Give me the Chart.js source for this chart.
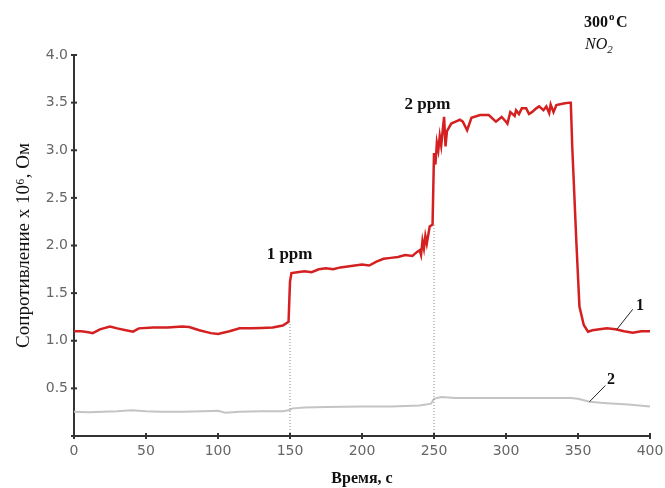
<!DOCTYPE html>
<html>
<head>
<meta charset="utf-8">
<script src="https://cdn.jsdelivr.net/npm/chart.js@4"></script>
<style>
  body { margin: 0; background: #fff; }
  #wrap { width: 665px; height: 488px; }
</style>
</head>
<body>
<div id="wrap"><canvas id="chart" width="665" height="488"></canvas></div>
<script>
// curve 1 (red)
const redTime = [0, 5, 10, 13, 18, 25, 30, 36, 41, 45, 55, 65, 75, 80, 87, 95, 100, 108, 115, 123, 130, 138, 145, 149,
  150, 151, 155, 160, 165, 170, 175, 180, 185, 190, 195, 200, 205, 210, 215, 220, 225, 230, 235, 238, 240, 241, 242,
  243, 244, 245, 247, 249, 250, 251, 252, 253, 254, 255, 256, 257, 258, 259, 262, 265, 268, 270, 273, 276, 282, 288,
  293, 297, 300, 301, 303, 306, 307, 309, 311, 314, 316, 318, 321, 323, 326, 328, 330, 331, 333, 335, 340, 344, 345,
  346, 349, 351, 354, 357, 360, 365, 370, 376, 382, 388, 394, 400];
const redValues = [1.10, 1.10, 1.09, 1.08, 1.12, 1.15, 1.13, 1.11, 1.095, 1.13, 1.14, 1.14, 1.15, 1.145, 1.11, 1.08, 1.07,
  1.10, 1.13, 1.13, 1.135, 1.14, 1.16, 1.20,
  1.62, 1.71, 1.72, 1.73, 1.72, 1.75, 1.76, 1.75, 1.77, 1.78, 1.79, 1.80, 1.79, 1.83, 1.86, 1.87, 1.88, 1.90, 1.89, 1.93,
  1.95, 1.90, 2.05, 1.97, 2.10, 2.02, 2.20, 2.22, 2.97, 2.85, 3.08, 3.00, 3.15, 3.05, 3.20, 3.35, 3.04, 3.20, 3.28, 3.30,
  3.32, 3.30, 3.21, 3.34, 3.37, 3.37, 3.30, 3.35, 3.30, 3.28, 3.40, 3.36, 3.42, 3.38, 3.44, 3.44, 3.38, 3.40, 3.44, 3.46,
  3.42, 3.46, 3.39, 3.48, 3.40, 3.475, 3.49, 3.50, 3.50,
  3.04, 1.99, 1.36, 1.165, 1.095, 1.11, 1.12, 1.13, 1.12, 1.10, 1.085, 1.10, 1.10];

// curve 2 (grey)
const greyTime = [0, 10, 20, 30, 40, 50, 60, 75, 90, 100, 105, 115, 130, 145, 149, 152, 160, 175, 200, 220, 240, 248,
  250, 255, 265, 290, 320, 345, 350, 358, 370, 385, 400];
const greyValues = [0.255, 0.25, 0.255, 0.26, 0.27, 0.26, 0.255, 0.255, 0.26, 0.265, 0.245, 0.255, 0.26, 0.26, 0.27,
  0.29, 0.30, 0.305, 0.31, 0.31, 0.32, 0.34, 0.39, 0.41, 0.40, 0.40, 0.40, 0.40, 0.39, 0.36, 0.345, 0.33, 0.31];

// switching moments (gas on) and where the dotted guide ends
const switchTime = [150, 250];
const switchTop = [1.20, 2.22];
const switchLabels = ["1 ppm", "2 ppm"];
const switchLabelPos = [[149.7, 1.90], [245.5, 3.475]];

const xTicks = [0, 50, 100, 150, 200, 250, 300, 350, 400];
const yTicks = [0, 0.5, 1.0, 1.5, 2.0, 2.5, 3.0, 3.5, 4.0];

// curve numbers with leader lines
const curveTags = [
  { text: "1", at: [393, 1.37], from: [388, 1.33], to: [377, 1.12] },
  { text: "2", at: [373, 0.59], from: [369, 0.53], to: [358, 0.36] }
];

const toXY = (xs, ys) => xs.map((x, i) => ({ x: x, y: ys[i] }));

const guides = switchTime.map((t, i) => ({
  data: [{ x: t, y: 0 }, { x: t, y: switchTop[i] }],
  borderColor: "#8a8a8a",
  borderWidth: 1,
  borderDash: [1, 2],
  pointRadius: 0
}));

const serif = "'Liberation Serif', 'DejaVu Serif', serif";

const extras = {
  id: "extras",
  afterDraw(chart) {
    const ctx = chart.ctx;
    const xs = chart.scales.x, ys = chart.scales.y;
    ctx.save();
    // tick marks crossing the axes
    ctx.strokeStyle = "#333";
    ctx.lineWidth = 2;
    xTicks.forEach(v => {
      const px = xs.getPixelForValue(v);
      ctx.beginPath();
      ctx.moveTo(px, ys.bottom - 3);
      ctx.lineTo(px, ys.bottom + 3);
      ctx.stroke();
    });
    yTicks.forEach(v => {
      const py = ys.getPixelForValue(v);
      ctx.beginPath();
      ctx.moveTo(xs.left - 3, py);
      ctx.lineTo(xs.left + 3, py);
      ctx.stroke();
    });

    // ppm labels
    ctx.fillStyle = "#111";
    ctx.font = "bold 17px " + serif;
    ctx.textAlign = "center";
    ctx.textBaseline = "middle";
    switchLabels.forEach((s, i) => {
      const p = switchLabelPos[i];
      ctx.fillText(s, xs.getPixelForValue(p[0]), ys.getPixelForValue(p[1]));
    });

    // curve numbers
    ctx.font = "bold 16px " + serif;
    ctx.lineWidth = 1;
    ctx.strokeStyle = "#222";
    curveTags.forEach(c => {
      ctx.fillText(c.text, xs.getPixelForValue(c.at[0]), ys.getPixelForValue(c.at[1]));
      ctx.beginPath();
      ctx.moveTo(xs.getPixelForValue(c.from[0]), ys.getPixelForValue(c.from[1]));
      ctx.lineTo(xs.getPixelForValue(c.to[0]), ys.getPixelForValue(c.to[1]));
      ctx.stroke();
    });

    // temperature and gas
    ctx.textAlign = "left";
    ctx.textBaseline = "alphabetic";
    ctx.font = "bold 16px " + serif;
    ctx.fillText("300", 584, 27);
    let w = ctx.measureText("300").width;
    ctx.font = "bold 11px " + serif;
    ctx.fillText("o", 584 + w + 1, 20);
    ctx.font = "bold 16px " + serif;
    ctx.fillText("C", 584 + w + 8, 27);
    ctx.font = "italic 16px " + serif;
    ctx.fillText("NO", 585, 49);
    w = ctx.measureText("NO").width;
    ctx.font = "italic 11px " + serif;
    ctx.fillText("2", 585 + w, 53);
    ctx.restore();
  }
};

new Chart(document.getElementById("chart"), {
  type: "line",
  data: {
    datasets: [
      ...guides,
      {
        data: toXY(greyTime, greyValues),
        borderColor: "#c4c4c4",
        borderWidth: 2,
        pointRadius: 0
      },
      {
        data: toXY(redTime, redValues),
        borderColor: "#d42020",
        borderWidth: 2.5,
        pointRadius: 0
      }
    ]
  },
  options: {
    responsive: false,
    animation: false,
    layout: { padding: { left: 0, right: 15, top: 55, bottom: 0 } },
    plugins: { legend: { display: false }, tooltip: { enabled: false } },
    scales: {
      x: {
        type: "linear",
        min: 0,
        max: 400,
        afterFit: s => { s.height = 52; s.paddingLeft = 0; s.paddingRight = 0; },
        afterBuildTicks: s => { s.ticks = xTicks.map(v => ({ value: v })); },
        border: { color: "#333", width: 2 },
        grid: { display: false, drawTicks: false },
        ticks: { color: "#666", padding: 7, font: { family: "'DejaVu Sans'", size: 14 } },
        title: {
          display: true,
          text: "Время, с",
          color: "#111",
          padding: { top: 9, bottom: 0 },
          font: { family: serif, size: 16, weight: "bold" }
        }
      },
      y: {
        min: 0,
        max: 4,
        afterFit: s => { s.width = 74; s.paddingTop = 0; s.paddingBottom = 0; },
        afterBuildTicks: s => { s.ticks = yTicks.map(v => ({ value: v })); },
        border: { color: "#333", width: 2 },
        grid: { display: false, drawTicks: false },
        ticks: {
          color: "#666",
          padding: 6,
          font: { family: "'DejaVu Sans'", size: 14 },
          callback: v => (v === 0 ? "" : v.toFixed(1))
        },
        title: {
          display: true,
          text: "Сопротивление x 10⁶, Ом",
          color: "#111",
          padding: { top: 13, bottom: 0 },
          font: { family: serif, size: 19 }
        }
      }
    }
  },
  plugins: [extras]
});
</script>
</body>
</html>
